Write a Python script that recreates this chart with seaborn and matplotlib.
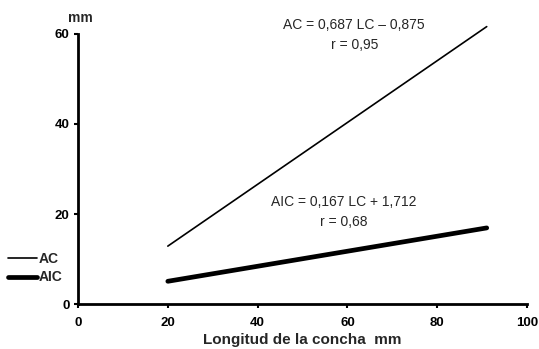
import matplotlib
matplotlib.use("Agg")
import matplotlib.pyplot as plt
import seaborn as sns
import pandas as pd
from matplotlib.lines import Line2D

sns.set_theme(style="ticks")
plt.rcParams['font.family'] = ['Liberation Sans', 'DejaVu Sans']

# Data
lc = [20, 91]
ac = [12.865, 61.64]
aic = [5.05, 16.91]
series_names = ["AC", "AIC"]
x_ticks = [0, 20, 40, 60, 80, 100]
y_ticks = [0, 20, 40, 60]

df = pd.DataFrame({
    "LC": lc + lc,
    "val": ac + aic,
    "serie": [series_names[0]] * 2 + [series_names[1]] * 2,
})

fig = plt.figure(figsize=(5.39, 3.49), dpi=100)
ax = fig.add_axes([0.1447, 0.1289, 0.978 - 0.1447, 0.9026 - 0.1289])

sns.lineplot(data=df, x="LC", y="val", hue="serie", size="serie",
             sizes={"AC": 1.2, "AIC": 3.4}, palette={"AC": "black", "AIC": "black"},
             ax=ax, legend=False)
for ln in ax.lines:
    ln.set_clip_on(False)

ax.set_xlim(0, 100)
ax.set_ylim(0, 60)
ax.set_xticks(x_ticks)
ax.set_yticks(y_ticks)
ax.set_xticklabels([str(t) for t in x_ticks], fontweight="bold", fontsize=9.5)
ax.set_yticklabels([str(t) for t in y_ticks], fontweight="bold", fontsize=9.5)
ax.tick_params(axis="x", direction="out", length=3, width=1.5, colors="black", pad=6)
ax.tick_params(axis="y", direction="out", length=3, width=1.5, colors="black", pad=3)
for s in ["top", "right"]:
    ax.spines[s].set_visible(False)
for s in ["left", "bottom"]:
    ax.spines[s].set_linewidth(2)
    ax.spines[s].set_color("black")

ax.set_xlabel("Longitud de la concha  mm", fontweight="bold", fontsize=11, labelpad=3)
ax.set_ylabel("")
fig.text(80 / 539, 1 - 18 / 349, "mm", fontweight="bold", fontsize=10, ha="center", va="center")

ax.text(0.615, 1.033, "AC = 0,687 LC – 0,875", transform=ax.transAxes, fontsize=10, ha="center", va="center")
ax.text(0.615, 0.959, "r = 0,95", transform=ax.transAxes, fontsize=10, ha="center", va="center")
ax.text(0.592, 0.378, "AIC = 0,167 LC + 1,712", transform=ax.transAxes, fontsize=10, ha="center", va="center")
ax.text(0.592, 0.304, "r = 0,68", transform=ax.transAxes, fontsize=10, ha="center", va="center")

handles = [Line2D([], [], color="black", lw=1.2), Line2D([], [], color="black", lw=3.4)]
leg = fig.legend(handles, series_names, loc="center left", bbox_to_anchor=(-0.008, 1 - 268 / 349),
                 frameon=False, handlelength=2.1, handletextpad=0.1, labelspacing=0.35,
                 prop={"weight": "bold", "size": 10})

fig.savefig("out.png", dpi=100)
